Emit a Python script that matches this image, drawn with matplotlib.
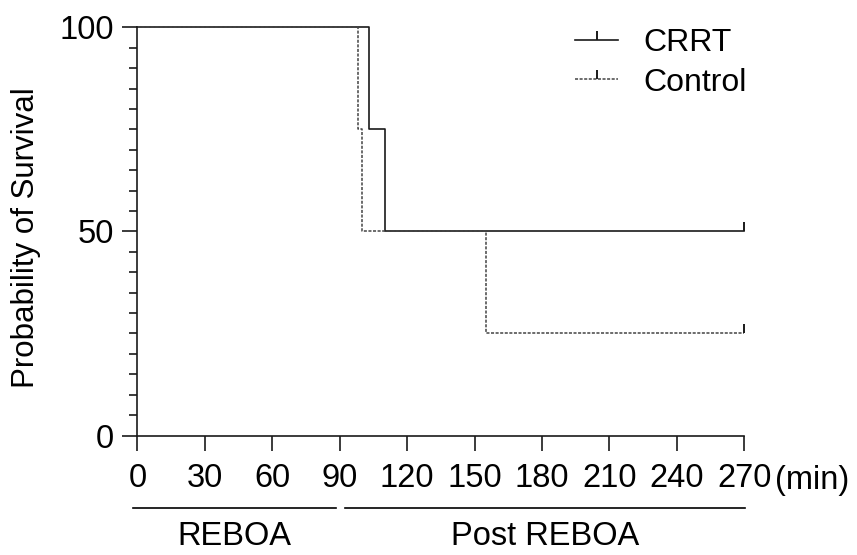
import matplotlib
matplotlib.use('Agg')
import matplotlib.pyplot as plt
from matplotlib.path import Path
from matplotlib.lines import Line2D
from matplotlib.ticker import MultipleLocator
import matplotlib.transforms as mtransforms

plt.rcParams['font.family'] = ['Liberation Sans', 'DejaVu Sans']

# Kaplan-Meier steps (time in min, survival in %)
crrt_times = [0, 103, 110, 270]
crrt_surv = [100, 75, 50, 50]
control_times = [0, 98, 100, 155, 270]
control_surv = [100, 75, 50, 25, 25]

x_ticks = [0, 30, 60, 90, 120, 150, 180, 210, 240, 270]
y_ticks = [0, 50, 100]

phase_names = ['REBOA', 'Post REBOA']
phase_start = [-2, 92.5]
phase_end = [88.5, 270.5]

col = '#1a1a1a'
censor = Path([(0, 0), (0, 1)])   # small upward tick for censored obs

fig = plt.figure(figsize=(8.57, 5.55), dpi=100)
ax = fig.add_axes([0.1604, 0.2153, 0.7081, 0.7352])

ax.step(crrt_times, crrt_surv, where='post', color=col, lw=1.2, clip_on=False)
ax.step(control_times, control_surv, where='post', color='#444444', lw=1.1,
        ls=(0, (2, 1)), clip_on=False)
ax.plot(crrt_times[-1], crrt_surv[-1], marker=censor, ms=13, mew=1.4, color=col,
        clip_on=False)
ax.plot(control_times[-1], control_surv[-1], marker=censor, ms=13, mew=1.4, color=col,
        clip_on=False)

ax.set_xlim(0, 270)
ax.set_ylim(0, 100)
ax.set_xticks(x_ticks)
ax.set_yticks(y_ticks)
ax.yaxis.set_minor_locator(MultipleLocator(5))
ax.spines['top'].set_visible(False)
ax.spines['right'].set_visible(False)
for s in ['left', 'bottom']:
    ax.spines[s].set_linewidth(1.2)
    ax.spines[s].set_color(col)
ax.tick_params(axis='x', which='major', length=11, width=1.2, pad=8.5, labelsize=23.5,
               color=col)
ax.tick_params(axis='y', which='major', length=11, width=1.2, pad=6, labelsize=23.5,
               color=col)
ax.tick_params(axis='y', which='minor', length=6, width=1.2, color=col)

ax.set_ylabel('Probability of Survival', fontsize=22.5)
ax.yaxis.set_label_coords(-0.159, 0.485)

trans = mtransforms.blended_transform_factory(ax.transData, ax.transAxes)
ax.text(283.5, -0.131, '(min)', fontsize=23.5, transform=trans, ha='left',
        va='baseline')

for name, a, b in zip(phase_names, phase_start, phase_end):
    ax.plot([a, b], [-0.1777, -0.1777], color='black', lw=1.2, transform=trans,
            clip_on=False)
    ax.text((a + b) / 2, -0.268, name, fontsize=23.5, transform=trans,
            ha='center', va='baseline')

handles = [
    Line2D([], [], color=col, lw=1.2, marker=censor, ms=13, mew=1.4),
    Line2D([], [], color='#444444', lw=1.1, ls=(0, (2, 1)), marker=censor, ms=13,
           mew=1.4, mec=col),
]
ax.legend(handles, ['CRRT', 'Control'], loc='upper left', frameon=False,
          bbox_to_anchor=(575 / 857, 1 - 28 / 555), bbox_transform=fig.transFigure,
          borderpad=0, borderaxespad=0, handlelength=1.35, handletextpad=0.78,
          labelspacing=0.3, numpoints=1, fontsize=23)

plt.savefig('out.png', dpi=100)
